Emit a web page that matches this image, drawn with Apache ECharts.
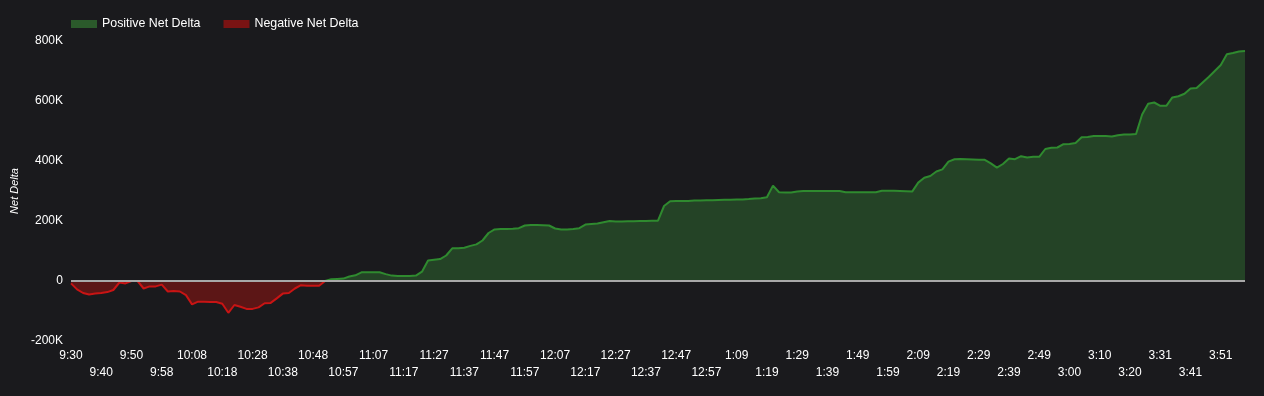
<!DOCTYPE html>
<html>
<head>
<meta charset="utf-8">
<script src="https://cdn.jsdelivr.net/npm/echarts@6/dist/echarts.min.js"></script>
<style>
html,body{margin:0;padding:0;background:#1a1a1d;}
#chart{width:1264px;height:396px;}
</style>
</head>
<body>
<div id="chart"></div>
<script>
var times = [
'9:30','9:32','9:34','9:36','9:38','9:40','9:42','9:44','9:46','9:48',
'9:50','9:52','9:53','9:55','9:56','9:58','10:00','10:02','10:04','10:06',
'10:08','10:10','10:12','10:14','10:16','10:18','10:20','10:22','10:24','10:26',
'10:28','10:30','10:32','10:34','10:36','10:38','10:40','10:42','10:44','10:46',
'10:48','10:50','10:52','10:53','10:55','10:57','10:59','11:01','11:03','11:05',
'11:07','11:09','11:11','11:13','11:15','11:17','11:19','11:21','11:23','11:25',
'11:27','11:29','11:31','11:33','11:35','11:37','11:39','11:41','11:43','11:45',
'11:47','11:49','11:51','11:53','11:55','11:57','11:59','12:01','12:03','12:05',
'12:07','12:09','12:11','12:13','12:15','12:17','12:19','12:21','12:23','12:25',
'12:27','12:29','12:31','12:33','12:35','12:37','12:39','12:41','12:43','12:45',
'12:47','12:49','12:51','12:53','12:55','12:57','12:59','1:01','1:04','1:06',
'1:09','1:11','1:13','1:15','1:17','1:19','1:21','1:23','1:25','1:27',
'1:29','1:31','1:33','1:35','1:37','1:39','1:41','1:43','1:45','1:47',
'1:49','1:51','1:53','1:55','1:57','1:59','2:01','2:03','2:05','2:07',
'2:09','2:11','2:13','2:15','2:17','2:19','2:21','2:23','2:25','2:27',
'2:29','2:31','2:33','2:35','2:37','2:39','2:41','2:43','2:45','2:47',
'2:49','2:51','2:53','2:55','2:57','3:00','3:02','3:04','3:06','3:08',
'3:10','3:12','3:14','3:16','3:18','3:20','3:22','3:24','3:27','3:29',
'3:31','3:33','3:35','3:37','3:39','3:41','3:43','3:45','3:47','3:49',
'3:51','3:53','3:55','3:57','3:59'
];

// Net delta (in K) per time point
var netDeltaK = [
-8,-28,-40,-45,-42,-40,-37,-30,-5,-8,
0,0,-25,-18,-18,-12,-35,-33,-35,-47,
-78,-69,-69,-70,-70,-76,-106,-80,-86,-93,
-93,-88,-74,-73,-58,-42,-40,-25,-14,-16,
-16,-16,0,6,7,8,15,19,29,29,
29,29,23,18,17,17,17,18,31,68,
71,73,85,109,109,111,117,122,135,160,
172,173,173,174,176,185,187,187,186,185,
175,172,172,173,176,188,190,192,196,200,
198,198,199,199,200,200,201,201,250,266,
267,267,267,268,268,269,269,270,271,271,
272,272,273,275,276,279,318,296,295,295,
298,300,300,300,300,300,300,300,296,296,
296,296,296,296,301,301,301,300,299,298,
328,344,350,365,372,398,406,407,406,405,
404,404,392,378,390,408,406,416,412,414,
414,440,444,445,456,457,460,479,480,483,
483,483,482,486,488,488,490,555,591,595,
584,584,612,616,624,642,643,662,680,700,
720,756,760,765,767
];

var yTicks = [-200000, 0, 200000, 400000, 600000, 800000];

var positiveData = netDeltaK.map(function(v){ return v >= 0 ? v * 1000 : null; });
var negativeData = netDeltaK.map(function(v){ return v <= 0 ? v * 1000 : null; });

var chart = echarts.init(document.getElementById('chart'));
var font = 'Arial, "Liberation Sans", Helvetica, sans-serif';
chart.setOption({
  backgroundColor: '#1a1a1d',
  animation: false,
  textStyle: { fontFamily: font },
  legend: {
    left: 66, top: 13,
    itemWidth: 26, itemHeight: 8, itemGap: 23,
    icon: 'rect',
    textStyle: { color: '#ffffff', fontSize: 12.4, fontFamily: font },
    data: [
      { name: 'Positive Net Delta', itemStyle: { color: '#2b5a2b' } },
      { name: 'Negative Net Delta', itemStyle: { color: '#7a1313' } }
    ]
  },
  grid: { left: 71, right: 19, top: 41, bottom: 55 },
  xAxis: {
    type: 'category',
    boundaryGap: false,
    data: times,
    axisLine: { show: false },
    axisTick: { show: false },
    splitLine: { show: false },
    axisLabel: {
      interval: 4,
      color: '#ffffff',
      fontSize: 12,
      margin: 6,
      lineHeight: 17,
      fontFamily: font,
      formatter: function (v, i) { return (i % 10 === 5) ? '\n' + v : v; }
    }
  },
  yAxis: {
    type: 'value',
    min: yTicks[0], max: yTicks[yTicks.length - 1], interval: 200000,
    name: 'Net Delta',
    nameLocation: 'middle',
    nameGap: 49,
    nameTextStyle: { color: '#ffffff', fontSize: 11, fontStyle: 'italic', fontFamily: font },
    axisLine: { show: false },
    axisTick: { show: false },
    splitLine: { show: false },
    axisLabel: {
      color: '#ffffff', fontSize: 12, margin: 8, fontFamily: font,
      formatter: function (v) { return v === 0 ? '0' : (v / 1000) + 'K'; }
    }
  },
  series: [
    {
      name: 'Negative Net Delta',
      type: 'line',
      data: negativeData,
      showSymbol: false,
      symbol: 'none',
      connectNulls: false,
      lineStyle: { color: '#c81414', width: 2 },
      itemStyle: { color: '#7a1313' },
      areaStyle: { color: '#5c1616', opacity: 1 }
    },
    {
      name: 'Positive Net Delta',
      type: 'line',
      data: positiveData,
      showSymbol: false,
      symbol: 'none',
      connectNulls: false,
      lineStyle: { color: '#2f8a2f', width: 2 },
      itemStyle: { color: '#2b5a2b' },
      areaStyle: { color: '#244326', opacity: 1 },
      markLine: {
        silent: true,
        symbol: ['none', 'none'],
        label: { show: false },
        lineStyle: { color: '#a8a8a8', type: 'solid', width: 2 },
        data: [{ yAxis: 0 }]
      }
    }
  ]
});
</script>
</body>
</html>
